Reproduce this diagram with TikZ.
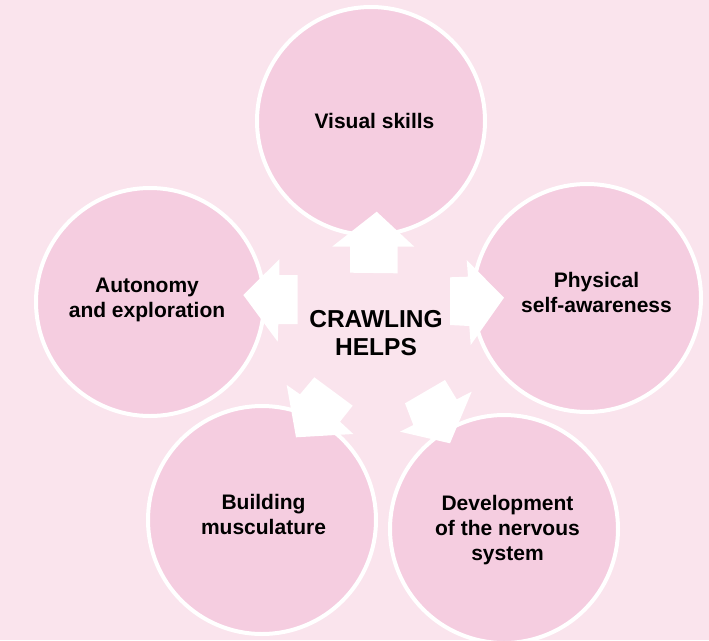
\documentclass[tikz,border=0pt]{standalone}
\usepackage{fontspec}
\setmainfont{Liberation Sans}
\definecolor{bgpink}{HTML}{FAE4ED}
\definecolor{circpink}{HTML}{F5CDE0}
\begin{document}
\begin{tikzpicture}[x=1pt,y=-1pt,
  bubble/.style={circle, fill=circpink, draw=white, line width=4pt, minimum size=228pt, inner sep=0pt},
  lbl/.style={font=\bfseries\fontsize{21}{25}\selectfont, align=center, text=black, inner sep=0pt},
  biglbl/.style={font=\bfseries\fontsize{24.5}{28}\selectfont, align=center, text=black, inner sep=0pt},
  blockarrow/.style={fill=white}]
\fill[bgpink] (0,0) rectangle (709,640);
\useasboundingbox (0,0) rectangle (709,640);
% circles
\node[bubble] (vis) at (371,121) {};
\node[bubble] (phy) at (587,298) {};
\node[bubble] (aut) at (150,302) {};
\node[bubble] (bui) at (262,520) {};
\node[bubble] (dev) at (504,529) {};
% labels
\node[lbl] (tvis) at (374.5,121) {Visual skills};
\node[lbl] (tphy) at (596.5,292) {Physical\\self-awareness};
\node[lbl] (taut) at (147,300) {Autonomy\\and exploration};
\node[lbl] (tbui) at (263.5,514) {Building\\musculature};
\node[lbl] (tdev) at (507.5,530) {Development\\of the nervous\\system};
\node[biglbl] (help) at (376,333) {CRAWLING\\HELPS};
% block arrows
\fill[blockarrow] (350,272.7) -- (350,246.7) -- (332.3,246.5) -- (376.7,211.7) -- (414.3,246.7) -- (397.7,246.7) -- (397.7,273.3) -- cycle;
\fill[blockarrow] (450,277.3) -- (468,276.7) -- (466.7,260) -- (504,297.7) -- (470.7,345) -- (469.3,326) -- (450,325) -- cycle;
\fill[blockarrow] (297.7,275) -- (279.3,275) -- (279.3,259.3) -- (243.3,295) -- (277.7,341.7) -- (278.3,324) -- (297.7,324) -- cycle;
\fill[blockarrow] (314.3,377.3) -- (300,394.3) -- (286.7,385) -- (296,437.3) -- (353.3,434) -- (340,421.7) -- (352.7,405.7) -- cycle;
\fill[blockarrow] (405,403.3) -- (445,380) -- (456.7,399.3) -- (471.7,391.7) -- (450,443.3) -- (400,431.7) -- (413.3,425) -- cycle;
\end{tikzpicture}
\end{document}
